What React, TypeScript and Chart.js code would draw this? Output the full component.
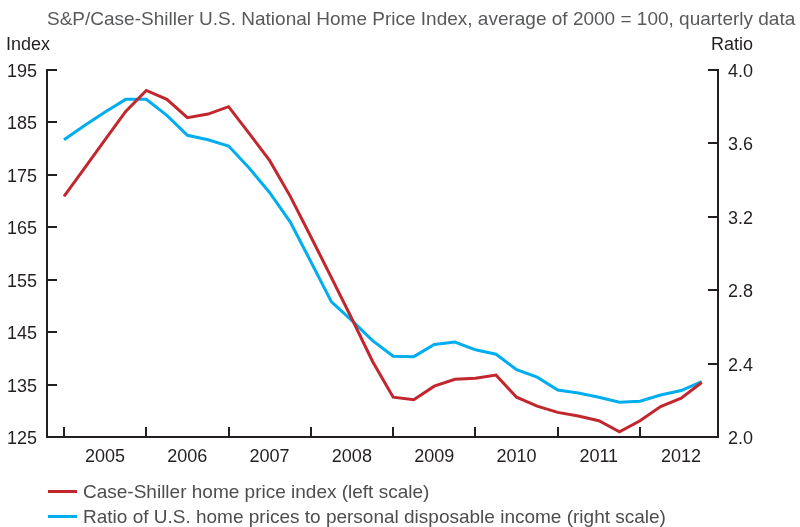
import React, { useEffect, useRef } from "react";
import { Chart, registerables } from "chart.js";

Chart.register(...registerables);

const years = ["2005", "2006", "2007", "2008", "2009", "2010", "2011", "2012"];
const quarters = Array.from({ length: 32 }, (_, i) => `${2005 + Math.floor(i / 4)}Q${(i % 4) + 1}`);

const caseShiller = [
  170.9, 176.3, 181.7, 187.1, 191.1, 189.4, 185.9, 186.6,
  188.0, 182.9, 177.7, 170.9, 163.2, 155.4, 147.5, 139.4,
  132.6, 132.1, 134.7, 136.0, 136.2, 136.8, 132.6, 130.9,
  129.7, 129.0, 128.1, 126.0, 128.1, 130.8, 132.4, 135.4,
];

const ratio = [
  3.62, 3.698, 3.771, 3.84, 3.84, 3.753, 3.644, 3.62,
  3.586, 3.466, 3.331, 3.171, 2.955, 2.736, 2.634, 2.525,
  2.44, 2.438, 2.504, 2.517, 2.475, 2.451, 2.367, 2.326,
  2.256, 2.24, 2.217, 2.189, 2.195, 2.229, 2.253, 2.302,
];

const leftTicks = [125, 135, 145, 155, 165, 175, 185, 195];
const rightTicks = [2.0, 2.4, 2.8, 3.2, 3.6, 4.0];
const yearStartIdx = [0, 4, 8, 12, 16, 20, 24, 28];

const titleText = "S&P/Case-Shiller U.S. National Home Price Index, average of 2000 = 100, quarterly data";
const leftAxisTitle = "Index";
const rightAxisTitle = "Ratio";
const legendRed = "Case-Shiller home price index (left scale)";
const legendBlue = "Ratio of U.S. home prices to personal disposable income (right scale)";

const RED = "#c1272d";
const BLUE = "#00aeef";
const AXIS = "#231f20";
const FONT = "'Liberation Sans', Arial, Helvetica, sans-serif";

const inwardTicks = {
  id: "inwardTicks",
  afterDraw(chart: any) {
    const ctx = chart.ctx;
    const { left, right, bottom } = chart.chartArea;
    const x = chart.scales.x;
    const y = chart.scales.y;
    const y1 = chart.scales.y1;
    ctx.save();
    ctx.strokeStyle = AXIS;
    ctx.lineWidth = 2;
    ctx.beginPath();
    leftTicks.forEach((v) => {
      const py = Math.round(y.getPixelForValue(v));
      ctx.moveTo(left, py);
      ctx.lineTo(left + 10, py);
    });
    rightTicks.forEach((v) => {
      const py = Math.round(y1.getPixelForValue(v));
      ctx.moveTo(right - 10, py);
      ctx.lineTo(right, py);
    });
    yearStartIdx.forEach((v) => {
      const px = Math.round(x.getPixelForValue(v));
      ctx.moveTo(px, bottom);
      ctx.lineTo(px, bottom - 10);
    });
    ctx.stroke();
    ctx.restore();
  },
};

export default function App() {
  const ref = useRef<HTMLCanvasElement | null>(null);

  useEffect(() => {
    if (!ref.current) return;
    const chart = new Chart(ref.current, {
      type: "line",
      data: {
        labels: quarters,
        datasets: [
          {
            label: legendRed,
            data: caseShiller.map((v, i) => ({ x: i, y: v })),
            borderColor: RED,
            backgroundColor: RED,
            borderWidth: 3,
            pointRadius: 0,
            tension: 0,
            yAxisID: "y",
          },
          {
            label: legendBlue,
            data: ratio.map((v, i) => ({ x: i, y: v })),
            borderColor: BLUE,
            backgroundColor: BLUE,
            borderWidth: 3,
            pointRadius: 0,
            tension: 0,
            yAxisID: "y1",
          },
        ],
      },
      options: {
        responsive: false,
        animation: false,
        layout: { padding: { top: 70, left: 0, right: 0, bottom: 0 } },
        plugins: {
          legend: { display: false },
          tooltip: { enabled: false },
          title: { display: false },
        },
        scales: {
          x: {
            type: "linear",
            min: -0.826,
            max: 31.79,
            afterBuildTicks: (s: any) => {
              s.ticks = yearStartIdx.map((v) => ({ value: v }));
            },
            afterFit: (s: any) => {
              s.height = 90;
            },
            grid: { display: false, drawTicks: false },
            border: { display: true, color: AXIS, width: 2 },
            ticks: {
              autoSkip: false,
              maxRotation: 0,
              padding: 9,
              labelOffset: 41,
              color: AXIS,
              font: { family: FONT, size: 18 },
              callback: (_v: any, i: number) => years[i],
            },
          },
          y: {
            type: "linear",
            position: "left",
            min: 125,
            max: 195,
            afterBuildTicks: (s: any) => {
              s.ticks = leftTicks.map((v) => ({ value: v }));
            },
            afterFit: (s: any) => {
              s.width = 47;
            },
            grid: { display: false, drawTicks: false },
            border: { display: true, color: AXIS, width: 2 },
            ticks: {
              padding: 10,
              labelOffset: 2,
              color: AXIS,
              font: { family: FONT, size: 18 },
              callback: (v: any) => String(v),
            },
          },
          y1: {
            type: "linear",
            position: "right",
            min: 2.0,
            max: 4.0,
            afterBuildTicks: (s: any) => {
              s.ticks = rightTicks.map((v) => ({ value: v }));
            },
            afterFit: (s: any) => {
              s.width = 82;
            },
            grid: { display: false, drawTicks: false },
            border: { display: true, color: AXIS, width: 2 },
            ticks: {
              padding: 10,
              labelOffset: 2,
              color: AXIS,
              font: { family: FONT, size: 18 },
              callback: (v: any) => Number(v).toFixed(1),
            },
          },
        },
      },
      plugins: [inwardTicks],
    });
    return () => chart.destroy();
  }, []);

  const textBase: React.CSSProperties = {
    position: "absolute",
    fontFamily: FONT,
    whiteSpace: "nowrap",
    lineHeight: 1,
  };

  return (
    <div style={{ position: "absolute", left: 0, top: 0, width: 800, height: 527, background: "#fff" }}>
      <canvas ref={ref} width={800} height={527} style={{ position: "absolute", left: 0, top: 0 }} />
      <div style={{ ...textBase, left: 47, top: 9, fontSize: 19, color: "#58595b" }}>{titleText}</div>
      <div style={{ ...textBase, left: 6, top: 35, fontSize: 18, color: AXIS }}>{leftAxisTitle}</div>
      <div style={{ ...textBase, right: 47, top: 35, fontSize: 18, color: AXIS }}>{rightAxisTitle}</div>
      <div style={{ position: "absolute", left: 48, top: 490, width: 29, height: 3, background: RED }} />
      <div style={{ ...textBase, left: 83, top: 482, fontSize: 19, color: "#4d4d4f" }}>{legendRed}</div>
      <div style={{ position: "absolute", left: 48, top: 515, width: 29, height: 3, background: BLUE }} />
      <div style={{ ...textBase, left: 83, top: 507, fontSize: 19, color: "#4d4d4f" }}>{legendBlue}</div>
    </div>
  );
}
